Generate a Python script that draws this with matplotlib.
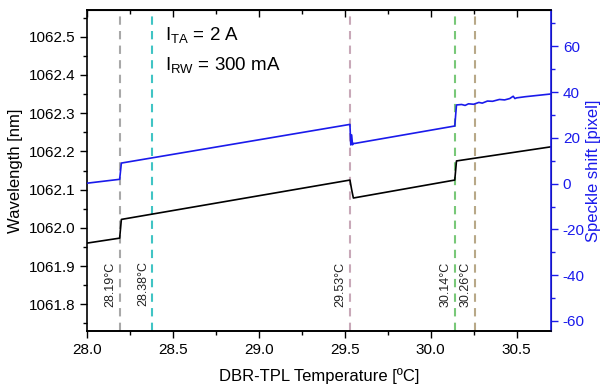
import matplotlib
matplotlib.use("Agg")
import matplotlib.pyplot as plt
from matplotlib.ticker import MultipleLocator

plt.rcParams['font.family'] = ['Liberation Sans', 'DejaVu Sans']
plt.rcParams['mathtext.fontset'] = 'custom'
plt.rcParams['mathtext.rm'] = 'Liberation Sans'
plt.rcParams['mathtext.it'] = 'Liberation Sans'

# Wavelength (left axis)
temp_wl = [28.00, 28.19, 28.20, 29.53, 29.54, 29.55, 30.14, 30.15, 30.70]
wavelength = [1061.960, 1061.973, 1062.022, 1062.125, 1062.100, 1062.078,
              1062.125, 1062.175, 1062.212]

# Speckle shift (right axis)
temp_ss = [28.00, 28.19, 28.20, 29.53, 29.535, 29.540, 29.545, 29.55, 29.56,
           30.14, 30.15, 30.18, 30.20, 30.22, 30.25, 30.28, 30.30, 30.33,
           30.36, 30.40, 30.43, 30.46, 30.48, 30.49, 30.50, 30.55, 30.60,
           30.65, 30.70]
speckle = [0.2, 1.9, 9.0, 25.9, 16.9, 21.3, 17.0, 17.6, 17.6,
           25.2, 34.4, 34.6, 34.2, 34.9, 34.7, 35.5, 35.2, 36.1,
           36.0, 36.8, 36.6, 37.2, 38.2, 37.2, 37.5, 38.0, 38.4,
           38.8, 39.2]

# Marker lines
mark_temps = [28.19, 28.38, 29.53, 30.14, 30.26]
mark_labels = ['28.19°C', '28.38°C', '29.53°C', '30.14°C', '30.26°C']
mark_colors = ['#a8a8a8', '#40c4c4', '#c8a8b8', '#78c878', '#b8a888']

blue = '#1a1aeb'

fig = plt.figure(figsize=(6.03, 3.89), dpi=100)
ax = fig.add_axes([87/603, 1-331/389, (551-87)/603, (331-10)/389])
ax2 = ax.twinx()

for t, c in zip(mark_temps, mark_colors):
    ax.axvline(t, color=c, lw=1.5, ls=(0, (4, 3)), zorder=1)
for t, lab in zip(mark_temps, mark_labels):
    ax.annotate(lab, xy=(t, 1061.853), xytext=(-2.5, 0), textcoords='offset points',
                rotation=90, ha='right', va='center', fontsize=9, color='#222222')

ax.plot(temp_wl, wavelength, color='black', lw=1.2, zorder=3)
ax2.plot(temp_ss, speckle, color=blue, lw=1.2, zorder=3)

ax.set_xlim(28.0, 30.70)
ax.set_ylim(1061.73, 1062.57)
ax2.set_ylim(-64.4, 75.9)

ax.xaxis.set_major_locator(MultipleLocator(0.5))
ax.xaxis.set_minor_locator(MultipleLocator(0.25))
ax.yaxis.set_major_locator(MultipleLocator(0.1))
ax.yaxis.set_minor_locator(MultipleLocator(0.05))
ax2.yaxis.set_major_locator(MultipleLocator(20))
ax2.yaxis.set_minor_locator(MultipleLocator(10))

ax.xaxis.set_major_formatter(plt.FuncFormatter(lambda v, p: f'{v:.1f}'))
ax.yaxis.set_major_formatter(plt.FuncFormatter(lambda v, p: f'{v:.1f}'))
ax2.yaxis.set_major_formatter(plt.FuncFormatter(lambda v, p: f'{v:.0f}'))

ax.tick_params(axis='x', which='both', direction='out', labelsize=11)
ax.tick_params(axis='x', which='major', length=5, width=1)
ax.tick_params(axis='x', which='minor', length=3, width=1)
ax.tick_params(axis='y', which='major', direction='out', length=5, width=1, labelsize=11)
ax.tick_params(axis='y', which='minor', direction='out', length=3, width=1)
ax2.tick_params(axis='y', which='major', direction='out', length=5, width=1,
                labelsize=11, colors=blue)
ax2.tick_params(axis='y', which='minor', direction='out', length=3, width=1, colors=blue)

# top ticks inward
axt = ax.secondary_xaxis('top')
axt.xaxis.set_major_locator(MultipleLocator(0.5))
axt.xaxis.set_minor_locator(MultipleLocator(0.25))
axt.tick_params(axis='x', which='both', direction='in', labeltop=False)
axt.tick_params(axis='x', which='major', length=5, width=1)
axt.tick_params(axis='x', which='minor', length=3, width=1)

for s in ['left', 'bottom', 'top']:
    ax.spines[s].set_linewidth(1.2)
ax2.spines['right'].set_color(blue)
ax2.spines['right'].set_linewidth(1.2)
ax2.spines['left'].set_visible(False)
ax2.spines['top'].set_linewidth(1.2)
ax2.spines['bottom'].set_linewidth(1.2)

ax.set_xlabel('DBR-TPL Temperature [ºC]', fontsize=12, labelpad=8)
ax.set_ylabel('Wavelength [nm]', fontsize=12, labelpad=4)
ax2.set_ylabel('Speckle shift [pixel]', fontsize=12, color=blue, labelpad=1)

ax.text(0.168, 0.922, r'$\mathregular{I_{TA}}$ = 2 A', transform=ax.transAxes,
        fontsize=13.5, ha='left', va='center')
ax.text(0.168, 0.829, r'$\mathregular{I_{RW}}$ = 300 mA', transform=ax.transAxes,
        fontsize=13.5, ha='left', va='center')

fig.savefig('out.png', dpi=100)
